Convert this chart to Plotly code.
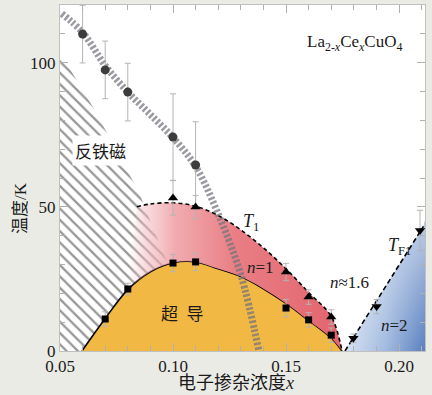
import plotly.graph_objects as go

X_MIN, X_MAX = 0.05, 0.2115
Y_MIN, Y_MAX = 0, 120

# Superconducting dome Tc (solid line)
tc_x = [0.0597, 0.07, 0.08, 0.09, 0.10, 0.11, 0.12, 0.13, 0.14, 0.15, 0.16, 0.17, 0.1748]
tc_y = [0, 11.3, 21.3, 27.5, 30.6, 30.9, 28.5, 25.8, 21.6, 16.5, 10.6, 4.5, 0]

# T1 crossover (dashed line)
t1_x = [0.084, 0.09, 0.10, 0.11, 0.12, 0.13, 0.14, 0.15, 0.16, 0.17, 0.1748]
t1_y = [50.0, 51.0, 51.4, 50.2, 47.0, 42.0, 35.8, 28.5, 20.3, 12.0, 0]

# T_F1 line (dashed)
tf1_x = [0.1761, 0.2108]
tf1_y = [0, 43.2]

# Fermi-surface reconstruction guide (striped band)
fs_x = [0.0508, 0.06, 0.07, 0.08, 0.09, 0.10, 0.11, 0.12, 0.13, 0.138]
fs_y = [117.0, 110.5, 99.0, 89.8, 82.0, 74.0, 64.0, 47.5, 26.5, 0]

# Antiferromagnetic region boundary (hatched)
afm_x = [0.05, 0.05, 0.065, 0.085, 0.092, 0.098, 0.098]
afm_y = [0, 103.5, 84, 55, 41, 30, 0]

# Data points
circ_x = [0.06, 0.07, 0.08, 0.10, 0.11]
circ_y = [109.9, 97.5, 89.8, 74.2, 64.5]
circ_err = [10, 10, 10, 15, 15]

sq_x = [0.07, 0.08, 0.10, 0.11, 0.15, 0.16, 0.17]
sq_y = [11.1, 21.5, 30.5, 30.9, 14.9, 10.8, 5.5]
sq_err = [2.5, 2, 3, 3, 3, 2.5, 2.5]

tu_x = [0.10, 0.11, 0.15, 0.16, 0.17]
tu_y = [53.1, 49.9, 27.4, 18.7, 11.8]
tu_err = [6, 4, 3, 2.5, 2.5]

td_x = [0.1798, 0.1901, 0.2093]
td_y = [4.4, 15.4, 41.8]
td_err = [1.5, 2.5, 7]

SERIF = "Liberation Serif, Noto Sans CJK SC"
CJK = "Noto Sans CJK SC"
TXT = "#1a1a1a"

fig = go.Figure()

# hatched AFM region
fig.add_trace(go.Scatter(
    x=afm_x, y=afm_y, mode="lines", fill="toself", line=dict(width=0),
    fillcolor="white",
    fillpattern=dict(shape="\\", size=8, solidity=0.28, fgcolor="#2e2e2e", bgcolor="white"),
    hoverinfo="skip"))

# superconducting dome
fig.add_trace(go.Scatter(
    x=tc_x, y=tc_y, mode="lines", line=dict(color="black", width=1.6, shape="spline"),
    fill="tozeroy", fillcolor="#f1b844", hoverinfo="skip"))

# pink region between Tc and T1
fig.add_trace(go.Scatter(
    x=tc_x[2:], y=tc_y[2:], mode="lines", line=dict(width=0, shape="spline"),
    hoverinfo="skip"))
fig.add_trace(go.Scatter(
    x=t1_x, y=t1_y, mode="lines",
    line=dict(color="black", width=1.6, dash="4px,3px", shape="spline"),
    fill="tonexty",
    fillgradient=dict(type="horizontal", colorscale=[
        [0, "rgba(245,200,205,0)"],
        [0.08, "rgba(242,185,190,0.5)"],
        [0.22, "rgba(239,162,167,0.9)"],
        [0.5, "rgb(233,126,132)"],
        [1, "rgb(226,100,110)"]]),
    hoverinfo="skip"))

# blue region
blue_x = tf1_x + [X_MAX, X_MAX]
blue_y = tf1_y + [tf1_y[-1] + 2, 0]
fig.add_trace(go.Scatter(
    x=blue_x, y=blue_y, mode="lines", line=dict(width=0), fill="toself",
    fillgradient=dict(type="horizontal", colorscale=[
        [0, "#d6e1f2"], [0.5, "#a3bbe0"], [1, "#5a80c0"]]),
    hoverinfo="skip"))
fig.add_trace(go.Scatter(
    x=blue_x, y=blue_y, mode="lines", line=dict(width=0), fill="toself",
    fillgradient=dict(type="vertical", colorscale=[
        [0, "rgba(255,255,255,0)"], [1, "rgba(255,255,255,0.6)"]]),
    hoverinfo="skip"))

# TF1 dashed line
fig.add_trace(go.Scatter(
    x=tf1_x, y=tf1_y, mode="lines",
    line=dict(color="black", width=1.6, dash="5px,3px"), hoverinfo="skip"))

# striped guide band
fig.add_trace(go.Scatter(
    x=fs_x, y=fs_y, mode="lines",
    line=dict(color="rgba(115,115,125,0.72)", width=7, dash="2.5px,2px", shape="spline"),
    hoverinfo="skip"))

err_style = dict(type="data", color="#b4b4b4", thickness=1, width=3)

fig.add_trace(go.Scatter(
    x=circ_x, y=circ_y, mode="markers",
    marker=dict(symbol="circle", size=9, color="#3c3c3c"),
    error_y=dict(array=circ_err, **err_style)))
fig.add_trace(go.Scatter(
    x=tu_x, y=tu_y, mode="markers",
    marker=dict(symbol="triangle-up", size=9, color="black"),
    error_y=dict(array=tu_err, **err_style)))
fig.add_trace(go.Scatter(
    x=sq_x, y=sq_y, mode="markers",
    marker=dict(symbol="square", size=7, color="black"),
    error_y=dict(array=sq_err, **err_style)))
fig.add_trace(go.Scatter(
    x=td_x, y=td_y, mode="markers",
    marker=dict(symbol="triangle-down", size=9, color="black"),
    error_y=dict(array=td_err, **err_style)))

# text labels
labels = [
    (0.1805, 106.8, "La<sub>2-<i>x</i></sub>Ce<sub><i>x</i></sub>CuO<sub>4</sub>", 17),
    (0.1044, 12.8, "超  导", 17),
    (0.1345, 44.7, "<i>T</i><sub>1</sub>", 18),
    (0.1389, 28.8, "<i>n</i>=1", 17),
    (0.1783, 23.9, "<i>n</i>≈1.6", 17),
    (0.2004, 36.1, "<i>T</i><sub>F1</sub>", 18),
    (0.1982, 9.0, "<i>n</i>=2", 17),
    (0.1376, -4.7, "<i>x</i><sub>FS</sub>", 17),
    (0.1761, -4.7, "<i>x</i><sub>C</sub>", 17),
]
for lx, ly, lt, fs in labels:
    fig.add_annotation(x=lx, y=ly, text=lt, showarrow=False, xanchor="center", yanchor="middle",
                       font=dict(family=SERIF, size=fs, color=TXT))

fig.add_annotation(x=0.0677, y=69.4, text="反铁磁", showarrow=False,
                   font=dict(family=CJK, size=17, color=TXT),
                   bgcolor="white", borderpad=2, xanchor="center", yanchor="middle")

fig.add_annotation(xref="paper", yref="paper", x=0.482, y=-0.092, text="电子掺杂浓度<i>x</i>",
                   showarrow=False, xanchor="center", yanchor="middle",
                   font=dict(family=SERIF, size=18, color=TXT))
fig.add_annotation(xref="paper", yref="paper", x=-0.11, y=0.413, text="温度/K",
                   showarrow=False, xanchor="center", yanchor="middle", textangle=-90,
                   font=dict(family=SERIF, size=17, color=TXT))

axis_common = dict(
    showgrid=False, zeroline=False, showline=True, linecolor="#c0c0c0", linewidth=1,
    mirror="ticks", ticks="inside", ticklen=8, tickcolor="#b0b0b0", tickwidth=1,
    tickfont=dict(family=SERIF, size=17, color=TXT),
)
fig.update_xaxes(range=[X_MIN, X_MAX], tickvals=[0.05, 0.10, 0.15, 0.20],
                 ticktext=["0.05", "0.10", "0.15", "0.20"],
                 minor=dict(dtick=0.01, tick0=0.05, ticks="inside", ticklen=5,
                            tickcolor="#b0b0b0"),
                 **axis_common)
fig.update_yaxes(range=[Y_MIN, Y_MAX], tickvals=[0, 50, 100],
                 minor=dict(dtick=10, tick0=0, ticks="inside", ticklen=5,
                            tickcolor="#b0b0b0"),
                 **axis_common)

fig.update_layout(
    width=432, height=395,
    margin=dict(l=60, r=7, t=5, b=44, autoexpand=False),
    paper_bgcolor="#ebebe6", plot_bgcolor="white",
    showlegend=False,
)

fig.write_html("out.html", config={"displayModeBar": False},
               post_script="document.body.style.margin='0';document.body.style.overflow='hidden';")
